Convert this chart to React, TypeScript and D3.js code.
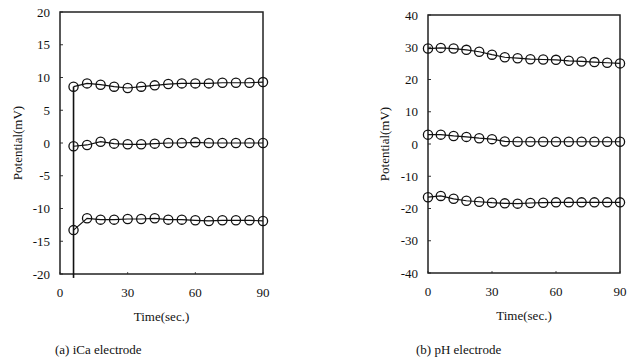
import React from 'react';
import * as d3 from 'd3';

// (a) iCa electrode, readings every 6 s from t=6
const iCaTimes = [6, 12, 18, 24, 30, 36, 42, 48, 54, 60, 66, 72, 78, 84, 90];
const iCaHigh = [8.6, 9.1, 8.9, 8.6, 8.4, 8.6, 8.8, 9.0, 9.1, 9.1, 9.1, 9.2, 9.2, 9.2, 9.3];
const iCaMid = [-0.5, -0.3, 0.2, -0.1, -0.2, -0.2, -0.1, 0.0, 0.0, 0.1, 0.0, 0.0, 0.0, 0.0, 0.0];
const iCaLow = [-13.3, -11.5, -11.7, -11.7, -11.6, -11.6, -11.5, -11.7, -11.7, -11.8, -11.9, -11.8, -11.8, -11.8, -11.9];
// the start-up trace at t=6 (drawn as a vertical stroke)
const iCaStartTrace = [8.6, -20.6];

// (b) pH electrode, readings every 6 s from t=0
const phTimes = [0, 6, 12, 18, 24, 30, 36, 42, 48, 54, 60, 66, 72, 78, 84, 90];
const phHigh = [29.6, 29.8, 29.6, 29.2, 28.6, 27.7, 26.9, 26.6, 26.3, 26.2, 26.1, 25.8, 25.6, 25.4, 25.2, 25.0];
const phMid = [2.9, 2.9, 2.5, 2.2, 1.8, 1.5, 0.8, 0.7, 0.7, 0.7, 0.7, 0.7, 0.7, 0.7, 0.7, 0.7];
const phLow = [-16.5, -16.1, -17.0, -17.6, -17.9, -18.2, -18.4, -18.5, -18.3, -18.2, -18.1, -18.1, -18.1, -18.1, -18.1, -18.1];

const xTicks = [0, 30, 60, 90];
const iCaYTicks = [-20, -15, -10, -5, 0, 5, 10, 15, 20];
const phYTicks = [-40, -30, -20, -10, 0, 10, 20, 30, 40];

const FONT = '"Liberation Serif", "Times New Roman", serif';

type PanelProps = {
  left: number; right: number; top: number; bottom: number;
  yDomain: [number, number];
  yTicks: number[];
  times: number[];
  series: number[][];
  caption: string;
  captionX: number;
  yTitleX: number;
  startTrace?: number[];
};

const Panel = ({ left, right, top, bottom, yDomain, yTicks, times, series, caption, captionX, yTitleX, startTrace }: PanelProps) => {
  const x = d3.scaleLinear().domain([0, 90]).range([left, right]);
  const y = d3.scaleLinear().domain(yDomain).range([bottom, top]);
  const line = d3.line<number>().x((_, i) => x(times[i])).y(d => y(d));

  return (
    <g fontFamily={FONT} fill="#111">
      {/* y ticks point inward */}
      {yTicks.map(t => (
        <g key={'y' + t}>
          <line x1={left} x2={left + 3} y1={y(t)} y2={y(t)} stroke="#333" strokeWidth={1} />
          <text x={left - 10} y={y(t)} dy="0.35em" textAnchor="end" fontSize={13}>{t}</text>
        </g>
      ))}
      {xTicks.map(t => (
        <g key={'x' + t}>
          <line x1={x(t)} x2={x(t)} y1={bottom} y2={bottom - 2} stroke="#555" strokeWidth={1} />
          <text x={x(t)} y={bottom + 23} textAnchor="middle" fontSize={13}>{t}</text>
        </g>
      ))}
      <rect x={left} y={top} width={right - left} height={bottom - top} fill="none" stroke="#222" strokeWidth={1.5} />
      {startTrace && (
        <line x1={x(times[0])} x2={x(times[0])} y1={y(startTrace[0])} y2={y(startTrace[1])} stroke="#111" strokeWidth={1.6} />
      )}
      {series.map((s, k) => (
        <g key={'s' + k}>
          <path d={line(s) || ''} fill="none" stroke="#111" strokeWidth={1.2} />
          {s.map((v, i) => (
            <circle key={i} cx={x(times[i])} cy={y(v)} r={4.6} fill="none" stroke="#111" strokeWidth={1.3} />
          ))}
        </g>
      ))}
      <text transform={`translate(${yTitleX},${(top + bottom) / 2}) rotate(-90)`} textAnchor="middle" fontSize={13}>Potential(mV)</text>
      <text x={(left + right) / 2} y={bottom + 47} textAnchor="middle" fontSize={13}>Time(sec.)</text>
      <text x={captionX} y={354} fontSize={13}>{caption}</text>
    </g>
  );
};

export default function App() {
  return (
    <svg width={633} height={359} style={{ position: 'absolute', left: 0, top: 0, background: '#fff' }}>
      <Panel left={60} right={263} top={12} bottom={274} yDomain={[-20, 20]} yTicks={iCaYTicks}
        times={iCaTimes} series={[iCaHigh, iCaMid, iCaLow]} caption="(a) iCa electrode" captionX={55}
        yTitleX={22} startTrace={iCaStartTrace} />
      <Panel left={428} right={620} top={15} bottom={273} yDomain={[-40, 40]} yTicks={phYTicks}
        times={phTimes} series={[phHigh, phMid, phLow]} caption="(b) pH electrode" captionX={416}
        yTitleX={389} />
    </svg>
  );
}
